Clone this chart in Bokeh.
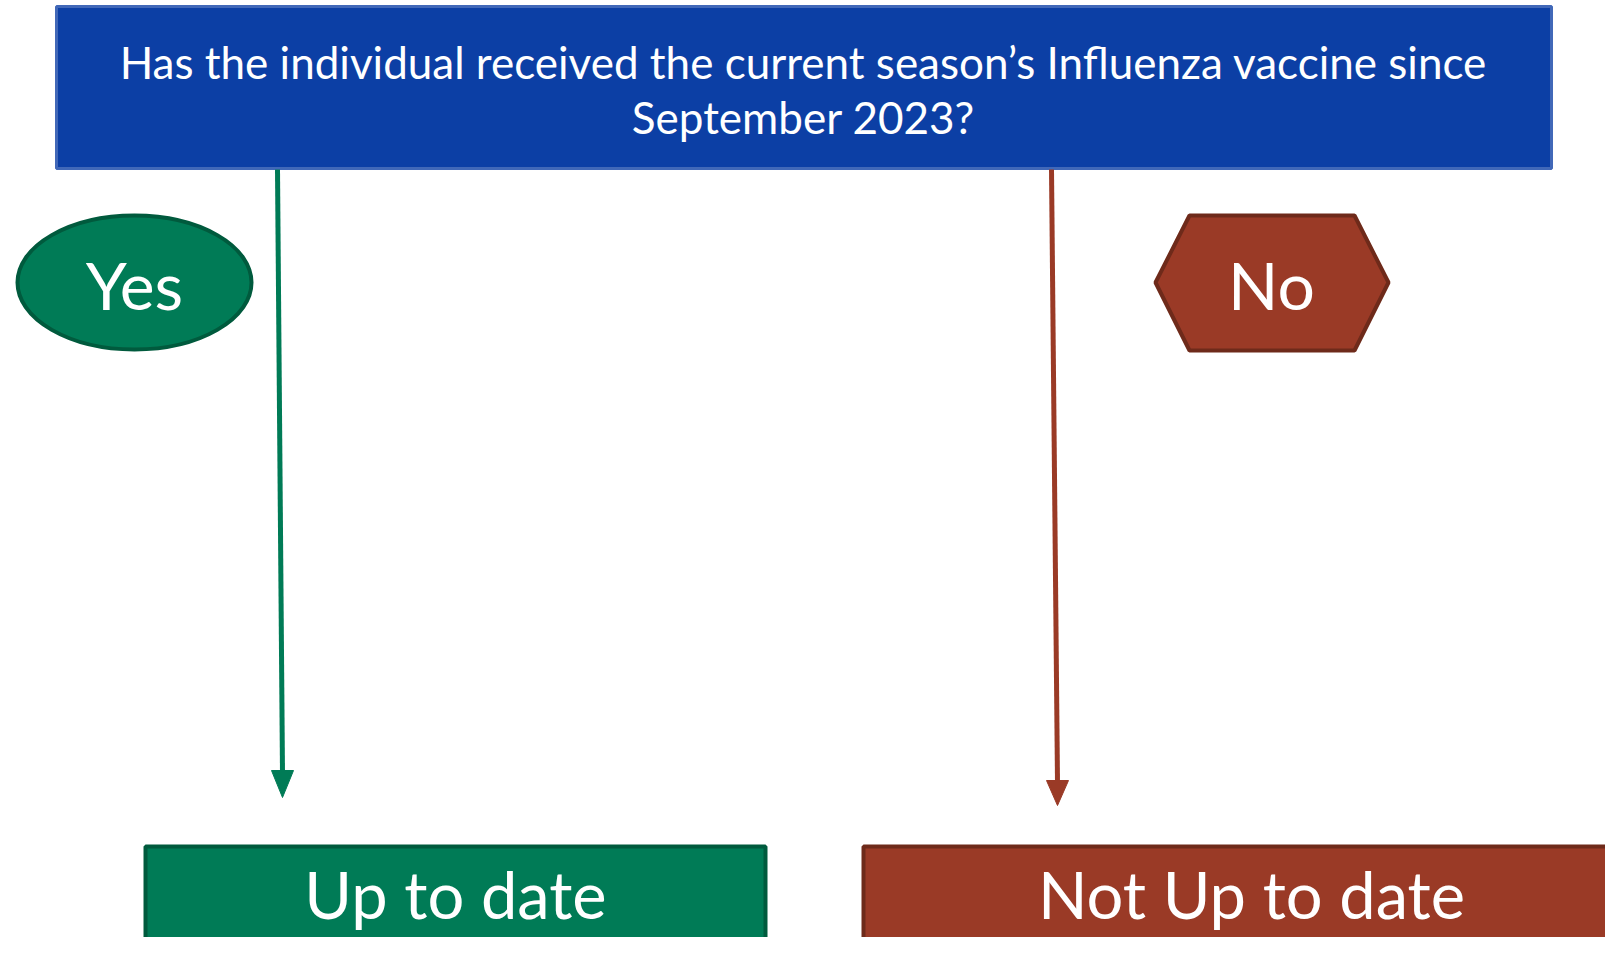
from bokeh.plotting import figure
from bokeh.models import Range1d
from bokeh.core.properties import value
from bokeh.embed import file_html
from bokeh.resources import INLINE

question = ["Has the individual received the current season\u2019s Influenza vaccine since", "September 2023?"]
answers = ["Yes", "No"]
outcomes = ["Up to date", "Not Up to date"]

BLUE = "#0C3FA5"
BLUE_EDGE = "#4168B8"
GREEN = "#007B56"
GREEN_EDGE = "#005A3D"
RED = "#9A3A26"
RED_EDGE = "#6E2A1A"
FONT = "Lato"

p = figure(width=1605, height=937, output_backend="svg", toolbar_location=None,
           x_range=Range1d(0, 1605), y_range=Range1d(937, 0), min_border=0)
p.axis.visible = False
p.grid.visible = False
p.outline_line_color = None
p.background_fill_color = "white"

# question box
p.quad(left=[56], right=[1551], top=[6], bottom=[168], fill_color=BLUE,
       line_color=BLUE_EDGE, line_width=3)
p.text(x=[803, 803], y=[61, 116], text=question, text_color="white",
       text_align="center", text_baseline="middle", text_font=value(FONT),
       text_font_size="44px")

# connectors
p.segment(x0=[277], y0=[169], x1=[282], y1=[772], line_color=GREEN, line_width=5)
p.patch(x=[271, 293, 282], y=[770, 770, 797], fill_color=GREEN, line_color=GREEN)
p.segment(x0=[1051], y0=[169], x1=[1057], y1=[782], line_color=RED, line_width=5)
p.patch(x=[1046, 1068, 1057], y=[780, 780, 805], fill_color=RED, line_color=RED)

# Yes ellipse
p.ellipse(x=[134], y=[282], width=[234], height=[134], fill_color=GREEN,
          line_color=GREEN_EDGE, line_width=4)
# No hexagon
p.patch(x=[1155, 1189, 1354, 1388, 1354, 1189], y=[282, 215, 215, 282, 350, 350],
        fill_color=RED, line_color=RED_EDGE, line_width=4)
p.text(x=[134, 1271], y=[284, 284], text=answers, text_color="white",
       text_align="center", text_baseline="middle", text_font=value(FONT),
       text_font_size="66px")

# outcome boxes
p.quad(left=[145, 863], right=[765, 1640], top=[846, 846], bottom=[980, 980],
       fill_color=[GREEN, RED], line_color=[GREEN_EDGE, RED_EDGE], line_width=4)
p.text(x=[455, 1251], y=[893, 893], text=outcomes, text_color="white",
       text_align="center", text_baseline="middle", text_font=value(FONT),
       text_font_size="65px")

open("out.html", "w").write(file_html(p, INLINE))
